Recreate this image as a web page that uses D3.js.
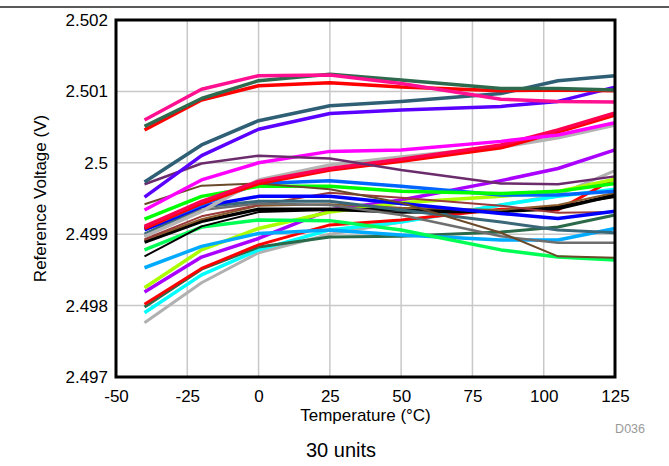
<!DOCTYPE html>
<html>
<head>
<meta charset="utf-8">
<script src="https://cdn.jsdelivr.net/npm/d3@7/dist/d3.min.js"></script>
<style>
  html, body { margin: 0; padding: 0; background: #fff; }
  svg text { font-family: Arial, "Liberation Sans", sans-serif; }
</style>
</head>
<body>
<svg id="chart" width="669" height="466"></svg>
<script>
// ---- data ----
const temps = [-40, -20, 0, 25, 50, 85, 105, 125];
const xTicks = [-50, -25, 0, 25, 50, 75, 100, 125];
const xTickLabels = ["-50", "-25", "0", "25", "50", "75", "100", "125"];
const yTicks = [2.497, 2.498, 2.499, 2.5, 2.501, 2.502];
const yTickLabels = ["2.497", "2.498", "2.499", "2.5", "2.501", "2.502"];

const grayLow     = [2.49776, 2.49832, 2.49874, 2.49900, 2.49917, 2.49941, 2.49955, 2.49989];
const cyanU       = [2.49790, 2.49843, 2.49878, 2.49906, 2.49917, 2.49941, 2.49953, 2.49963];
const darkGreen2  = [2.49798, 2.49851, 2.49882, 2.49896, 2.49897, 2.49903, 2.49910, 2.49927];
const redLow      = [2.49802, 2.49852, 2.49885, 2.49913, 2.49920, 2.49935, 2.49934, 2.49978];
const purpleU     = [2.49819, 2.49868, 2.49894, 2.49934, 2.49948, 2.49975, 2.49992, 2.50018];
const limeU       = [2.49825, 2.49878, 2.49908, 2.49931, 2.49944, 2.49953, 2.49960, 2.49977];
const skyBlue     = [2.49853, 2.49883, 2.49901, 2.49906, 2.49899, 2.49892, 2.49892, 2.49908];
const springGreen = [2.49878, 2.49910, 2.49920, 2.49919, 2.49906, 2.49878, 2.49868, 2.49864];
const blackThin   = [2.49869, 2.49911, 2.49931, 2.49934, 2.49930, 2.49931, 2.49939, 2.49952];
const blackU      = [2.49889, 2.49918, 2.49935, 2.49935, 2.49934, 2.49932, 2.49936, 2.49955];
const siennaU     = [2.49892, 2.49921, 2.49940, 2.49942, 2.49937, 2.49934, 2.49941, 2.49958];
const maroonU     = [2.49893, 2.49925, 2.49941, 2.49958, 2.49951, 2.49940, 2.49930, 2.49931];
const darkGrayU   = [2.49897, 2.49934, 2.49943, 2.49941, 2.49927, 2.49897, 2.49888, 2.49888];
const slate2      = [2.49900, 2.49938, 2.49946, 2.49946, 2.49934, 2.49917, 2.49906, 2.49902];
const blueU       = [2.49906, 2.49939, 2.49953, 2.49953, 2.49943, 2.49929, 2.49922, 2.49932];
const azureU      = [2.49909, 2.49941, 2.49971, 2.49975, 2.49967, 2.49955, 2.49955, 2.49960];
const greenU      = [2.49921, 2.49953, 2.49967, 2.49967, 2.49960, 2.49957, 2.49960, 2.49971];
const brownU      = [2.49942, 2.49968, 2.49971, 2.49963, 2.49944, 2.49902, 2.49869, 2.49867];
const grayUpper   = [2.49897, 2.49932, 2.49976, 2.49997, 2.50008, 2.50022, 2.50035, 2.50053];
const red2        = [2.49908, 2.49943, 2.49971, 2.49990, 2.50002, 2.50021, 2.50043, 2.50067];
const crimsonU    = [2.49911, 2.49946, 2.49974, 2.49992, 2.50005, 2.50025, 2.50046, 2.50070];
const magentaU    = [2.49934, 2.49976, 2.50000, 2.50016, 2.50018, 2.50030, 2.50039, 2.50056];
const plumU       = [2.49970, 2.49999, 2.50010, 2.50006, 2.49990, 2.49971, 2.49970, 2.49981];
const violetU     = [2.49952, 2.50010, 2.50047, 2.50069, 2.50074, 2.50079, 2.50086, 2.50106];
const slateU      = [2.49973, 2.50025, 2.50059, 2.50080, 2.50086, 2.50097, 2.50115, 2.50122];
const redTop      = [2.50046, 2.50088, 2.50108, 2.50112, 2.50106, 2.50101, 2.50102, 2.50101];
const darkGreenU  = [2.50051, 2.50090, 2.50115, 2.50124, 2.50116, 2.50104, 2.50104, 2.50102];
const pinkU       = [2.50060, 2.50103, 2.50122, 2.50123, 2.50111, 2.50089, 2.50086, 2.50085];

const seriesValues = [grayLow, cyanU, darkGreen2, redLow, purpleU, limeU, skyBlue, springGreen,
  blackThin, blackU, siennaU, maroonU, darkGrayU, slate2, blueU, azureU, greenU, brownU,
  grayUpper, red2, crimsonU, magentaU, plumU, violetU, slateU, redTop, darkGreenU, pinkU];
const seriesColors = ["#b0b0b0", "#00ffff", "#2a6a4a", "#ff0000", "#aa00ff", "#aaff00", "#00aaff", "#00ff55",
  "#000000", "#000000", "#8b5a2b", "#9b3a3a", "#6e6e6e", "#3b6878", "#0000ff", "#0066ff", "#00ff00", "#6b4a2a",
  "#b4b4b4", "#ff0000", "#ff0050", "#ff00ff", "#6b2c6b", "#5a00ff", "#2e5f75", "#ff0000", "#2e6b4e", "#ff1090"];
const seriesWidths = [3, 3.5, 3, 3, 3.5, 3.5, 3.5, 3.5,
  2, 3.5, 2, 2, 2.5, 3, 3.5, 3.5, 3.5, 2,
  3.5, 3.5, 3.5, 3.5, 2.5, 3.5, 3.5, 3.5, 3.5, 3.5];

// ---- layout ----
const svg = d3.select("#chart");
const L = 116, R = 615, T = 20, B = 377;
const x = d3.scaleLinear().domain([-50, 125]).range([L, R]);
const y = d3.scaleLinear().domain([2.497, 2.502]).range([B, T]);

// top rule
svg.append("line").attr("x1", 0).attr("x2", 669).attr("y1", 7).attr("y2", 7)
  .attr("stroke", "#222").attr("stroke-width", 1.5);

// grid
svg.append("g").selectAll("line").data(xTicks).join("line")
  .attr("x1", d => x(d)).attr("x2", d => x(d)).attr("y1", T).attr("y2", B)
  .attr("stroke", "#c8c8c8").attr("stroke-width", 1.5);
svg.append("g").selectAll("line").data(yTicks).join("line")
  .attr("x1", L).attr("x2", R).attr("y1", d => y(d)).attr("y2", d => y(d))
  .attr("stroke", "#c8c8c8").attr("stroke-width", 1.5);

// lines
const line = d3.line().x((d, i) => x(temps[i])).y(d => y(d));
svg.append("g").selectAll("path").data(seriesValues).join("path")
  .attr("d", d => line(d))
  .attr("fill", "none")
  .attr("stroke", (d, i) => seriesColors[i])
  .attr("stroke-width", (d, i) => seriesWidths[i])
  .attr("stroke-linejoin", "round");

// frame
svg.append("rect").attr("x", L).attr("y", T).attr("width", R - L).attr("height", B - T)
  .attr("fill", "none").attr("stroke", "#000").attr("stroke-width", 3);

// axes (labels only)
const yAxis = d3.axisLeft(y).tickValues(yTicks).tickSize(0).tickPadding(8)
  .tickFormat((d, i) => yTickLabels[i]);
const gy = svg.append("g").attr("transform", `translate(${L},0)`).call(yAxis);
gy.select(".domain").remove();
gy.selectAll("text").attr("font-size", 17).attr("fill", "#000")
  .attr("font-family", "Arial, 'Liberation Sans', sans-serif");

const xAxis = d3.axisBottom(x).tickValues(xTicks).tickSize(0).tickPadding(13)
  .tickFormat((d, i) => xTickLabels[i]);
const gx = svg.append("g").attr("transform", `translate(0,${B})`).call(xAxis);
gx.select(".domain").remove();
gx.selectAll("text").attr("font-size", 17).attr("fill", "#000")
  .attr("font-family", "Arial, 'Liberation Sans', sans-serif");

// titles
svg.append("text").attr("x", (L + R) / 2).attr("y", 421).attr("text-anchor", "middle")
  .attr("font-size", 17).text("Temperature (°C)");
svg.append("text").attr("transform", `translate(46,${(T + B) / 2}) rotate(-90)`)
  .attr("text-anchor", "middle").attr("font-size", 17).text("Reference Voltage (V)");
svg.append("text").attr("x", 645).attr("y", 433).attr("text-anchor", "end")
  .attr("font-size", 12.5).attr("fill", "#999").text("D036");
svg.append("text").attr("x", 341).attr("y", 457).attr("text-anchor", "middle")
  .attr("font-size", 20).text("30 units");
</script>
</body>
</html>
